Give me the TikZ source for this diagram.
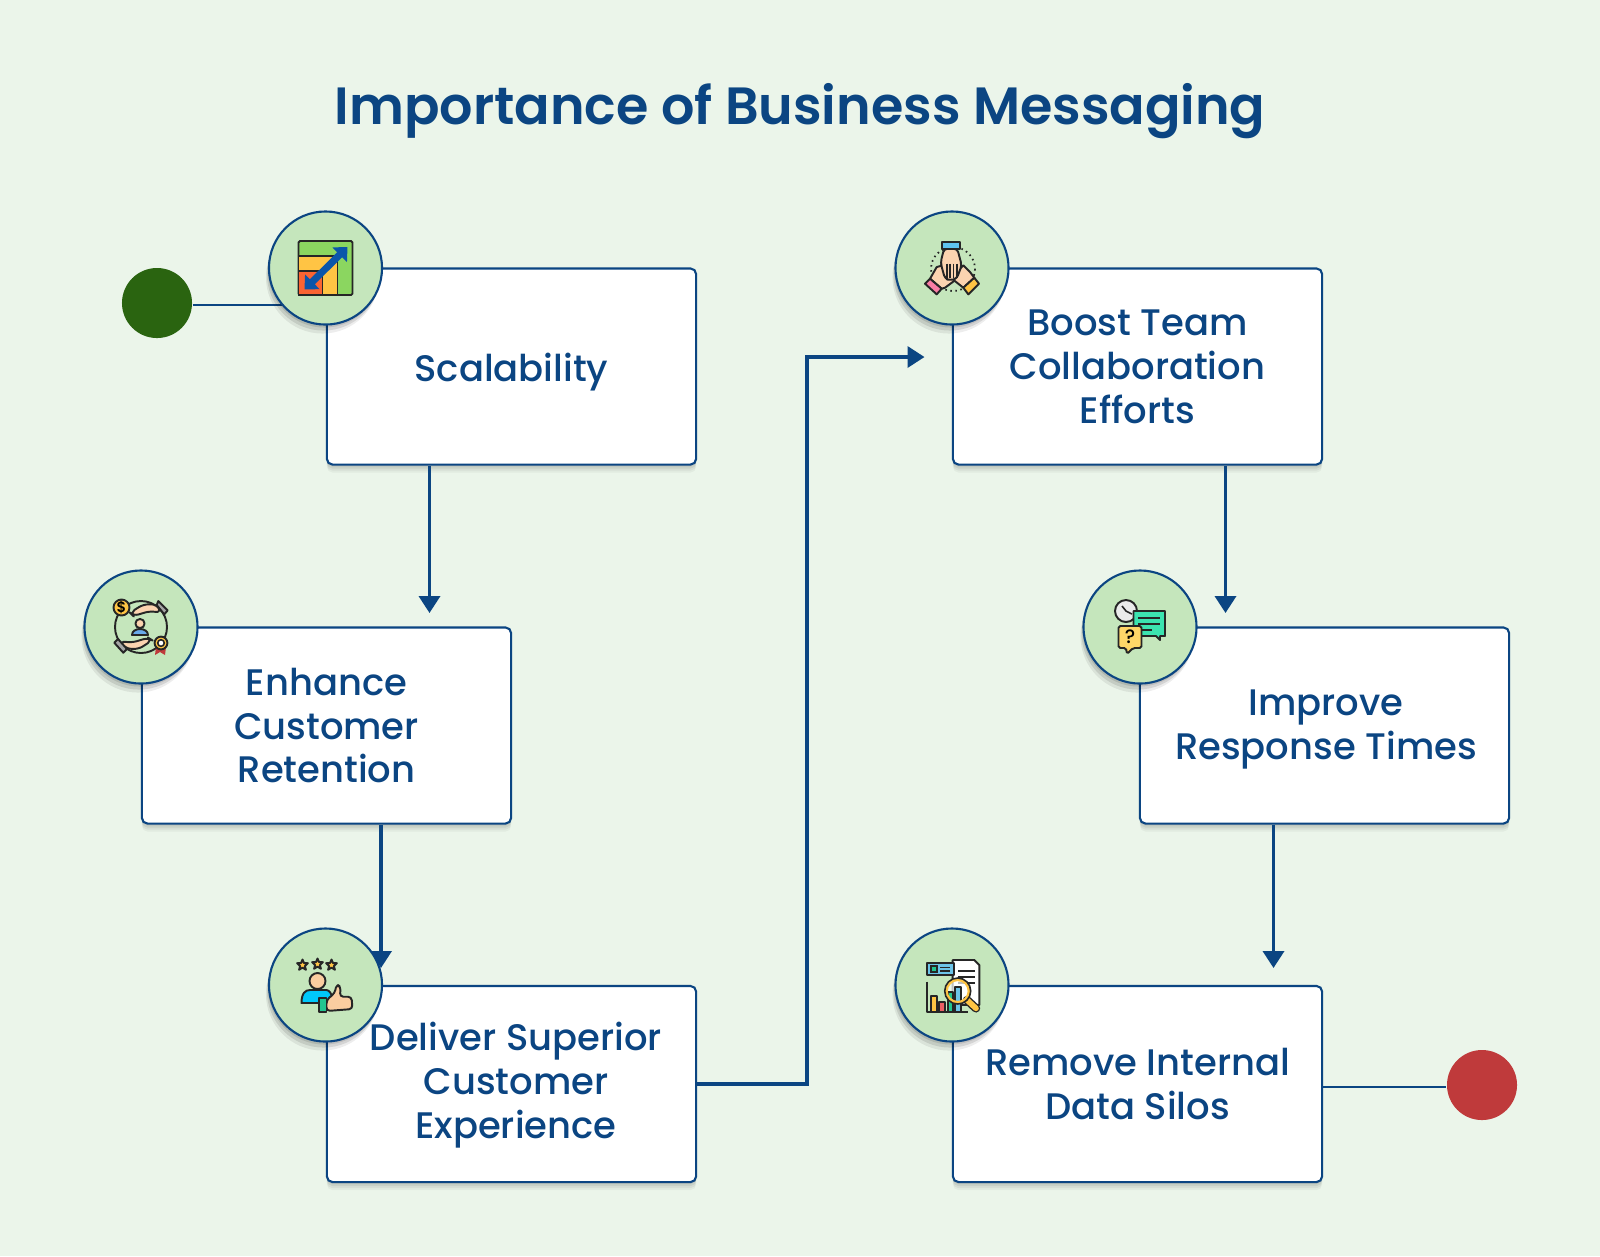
\documentclass[tikz,border=0pt]{standalone}
\usepackage{fontspec}
\setmainfont{Poppins Medium}[BoldFont={Poppins SemiBold}]
\usetikzlibrary{arrows.meta,shadows}
\definecolor{pagebg}{HTML}{EBF5EA}
\definecolor{navy}{HTML}{0B4582}
\definecolor{badgefill}{HTML}{C5E6BC}
\definecolor{startdot}{HTML}{2A6410}
\definecolor{enddot}{HTML}{BF3A3B}
\definecolor{skin}{HTML}{FBD3B0}
\definecolor{gold}{HTML}{FFC444}
\tikzset{
	softshade/.style={general shadow={shadow xshift=0cm, shadow yshift=-0.02cm, fill=black, opacity=0.06},
		general shadow={shadow xshift=0cm, shadow yshift=-0.04cm, fill=black, opacity=0.06},
		general shadow={shadow xshift=0cm, shadow yshift=-0.06cm, fill=black, opacity=0.05},
		general shadow={shadow xshift=0cm, shadow yshift=-0.08cm, fill=black, opacity=0.04}},
	box/.style={draw=navy, line width=0.6pt, fill=white, rounded corners=1.6pt, minimum width=3.69cm, minimum height=1.96cm, align=center, text=navy, font=\fontsize{10.5}{12.5}\selectfont, softshade},
	boxtext/.style={align=center, text=navy, font=\fontsize{10.5}{12.5}\selectfont},
	badge/.style={draw=navy, line width=0.6pt, fill=badgefill, circle, minimum size=1.13cm, inner sep=0pt,
		general shadow={shadow xshift=-0.01cm, shadow yshift=-0.03cm, fill=black, opacity=0.1},
		general shadow={shadow xshift=-0.02cm, shadow yshift=-0.06cm, fill=black, opacity=0.1},
		general shadow={shadow xshift=-0.03cm, shadow yshift=-0.09cm, fill=black, opacity=0.07}},
	flow/.style={draw=navy, line width=1pt, -{Triangle[length=0.17cm,width=0.21cm]}},
	link/.style={draw=navy, line width=0.6pt},
	dot/.style={circle, minimum size=0.7cm, inner sep=0pt},
	iconline/.style={draw=black!85, line width=0.55pt, line join=round},
	thinline/.style={draw=black!85, line width=0.45pt}
}
\begin{document}
\begin{tikzpicture}[x=0.01cm,y=-0.01cm]
	\fill[pagebg] (0,0) rectangle (1600,1256);
	\useasboundingbox (0,0) rectangle (1600,1256);
	\node[text=navy, font=\fontsize{14.9}{18}\bfseries\selectfont] (title) at (800,111) {Importance of Business Messaging};

	\node[box] (scalability) at (511.5,366.5) {};
	\node[boxtext] (scalabilitytext) at (511.5,372) {Scalability};
	\node[box] (retention) at (326.5,725.5) {Enhance\\Customer\\Retention};
	\node[box] (experience) at (511.5,1084) {};
	\node[boxtext] (experiencetext) at (516,1085) {Deliver Superior\\Customer\\Experience};
	\node[box] (collaboration) at (1137.5,366.5) {Boost Team\\Collaboration\\Efforts};
	\node[box] (response) at (1324.5,725.5) {};
	\node[boxtext] (responsetext) at (1326,729) {Improve\\Response Times};
	\node[box] (silos) at (1137.5,1084) {Remove Internal\\Data Silos};

	\node[dot, fill=startdot] (start) at (157,303) {};
	\node[dot, fill=enddot] (end) at (1482,1085) {};

	\coordinate (tipa) at (429.5,613);
	\coordinate (tipb) at (381,968);
	\coordinate (tipc) at (924.5,357);
	\coordinate (tipd) at (1225.5,613);
	\coordinate (tipe) at (1273.5,968);

	\draw[link] (start.east |- 0,305) -- (285,305);
	\draw[link] (silos.east |- 0,1087) -- (end.west |- 0,1087);
	\draw[flow] (scalability.south -| tipa) -- (tipa);
	\draw[flow] (retention.south -| tipb) -- (tipb);
	\draw[flow] (experience.east) -- ++(110,0) |- (tipc);
	\draw[flow] (collaboration.south -| tipd) -- (tipd);
	\draw[flow] (response.south -| tipe) -- (tipe);

	\node[badge] (scalebadge) at (325.5,268) {};
	\node[badge] (retainbadge) at (141,627) {};
	\node[badge] (deliverbadge) at (325.5,985) {};
	\node[badge] (teambadge) at (952,268) {};
	\node[badge] (timebadge) at (1140,627) {};
	\node[badge] (silobadge) at (952,985) {};

	% growth chart
	\begin{scope}[shift={(scalebadge.center)}]
		\draw[iconline, rounded corners=0.4pt, fill={rgb,255:red,139;green,214;blue,96}] (-27,-27) rectangle (27,27);
		\draw[iconline, fill=gold] (-27,-12) -- (12,-12) -- (12,27) -- (-27,27) -- cycle;
		\draw[iconline, fill={rgb,255:red,250;green,100;blue,50}] (-27,3) -- (-3,3) -- (-3,27) -- (-27,27) -- cycle;
		\draw[line width=2pt, draw={rgb,255:red,10;green,85;blue,170}, {Triangle[length=0.11cm,width=0.2cm]}-{Triangle[length=0.11cm,width=0.2cm]}] (-21,21.5) -- (22,-21);
	\end{scope}

	% three hands
	\begin{scope}[shift={(teambadge.center)}]
		\draw[thinline, densely dotted, line width=0.5pt] (1,1) circle[radius=22];
		\draw[iconline, fill=skin] (-22,10.7) -- (-15.3,-1) -- (-8.7,-2.7) -- (3,12.3) -- (-7,19.7) -- (-10.3,20.7) -- cycle;
		\draw[iconline, fill=skin] (11.3,19.7) -- (22.3,9.7) -- (18,4) -- (11.3,-2.7) -- (6.3,2.3) -- (2,12.3) -- cycle;
		\draw[iconline, fill={rgb,255:red,250;green,125;blue,165}] (-27,15.7) -- (-22,10.7) -- (-10.3,20.7) -- (-15.3,26.3) -- cycle;
		\draw[iconline, fill=gold] (11.3,19.7) -- (22.3,9.7) -- (27,15.7) -- (16.3,26.3) -- cycle;
		\draw[iconline, fill=skin, rounded corners=1pt] (-8,-19.3) -- (-11.3,-6) -- (-10.3,-1) -- (-7,10.7) -- (-2,12.3) -- (4.7,10.7) -- (9.7,-2.7) -- (5.3,-19.3) -- cycle;
		\draw[iconline, fill={rgb,255:red,95;green,195;blue,240}] (-9.7,-26) rectangle (8,-19.3);
		\foreach \fx in {-5.3,-2,1.3,4.7} \draw[thinline] (\fx,-4.3) -- (\fx,9.7);
	\end{scope}

	% customer between hands
	\begin{scope}[shift={(retainbadge.center)}]
		\draw[iconline] (0,0) circle[radius=26];
		\draw[iconline, fill=skin, rounded corners=1.5pt] (-11,-14.3) -- (2.3,-22.7) -- (15.7,-22.7) -- (20,-14.3) -- (9,-16) -- (-7.7,-11) -- cycle;
		\draw[iconline, fill=black!35] (17.3,-26) -- (26.7,-16.7) -- (23.3,-12.7) -- (15.7,-22) -- cycle;
		\draw[iconline, fill=skin, rounded corners=1.5pt] (11.3,13.3) -- (-2.7,22.3) -- (-16,21.3) -- (-21,14) -- (-9.3,15.7) -- (7.3,10.7) -- cycle;
		\draw[iconline, fill=black!35] (-26.7,15.7) -- (-17.7,25.7) -- (-14,22) -- (-23,12) -- cycle;
		\draw[iconline, fill=gold] (-19.5,-19.5) circle[radius=8];
		\node[font=\fontsize{4.2}{4.2}\bfseries\selectfont] (coinmark) at (-19.5,-19.5) {\$};
		\draw[iconline, fill=skin] (-1,-3.5) circle[radius=4.6];
		\draw[iconline, fill={rgb,255:red,105;green,170;blue,235}] (-9,8) .. controls (-9,0) and (7,0) .. (7,8) -- cycle;
		\fill[enddot] (15,20) -- (14,28) -- (19,25) -- (24,28) -- (25,20) -- cycle;
		\draw[iconline, fill=gold] (20,16) circle[radius=6.4];
		\draw[thinline, fill=white] (20,16) circle[radius=3.3];
	\end{scope}

	% thumbs up
	\begin{scope}[shift={(deliverbadge.center)}]
		\foreach \sx/\sy in {-23/-20,-8/-21,6/-20}
			\draw[iconline, fill=gold, shift={(\sx,\sy)}] (0,-5.5) -- (1.5,-2) -- (5.4,-1.8) -- (2.4,1) -- (3.4,4.7) -- (0,2.6) -- (-3.4,4.7) -- (-2.4,1) -- (-5.4,-1.8) -- (-1.5,-2) -- cycle;
		\draw[iconline, fill={rgb,255:red,0;green,200;blue,250}] (-24,18) .. controls (-24,8) and (-20,5) .. (-15.7,5) -- (1,5) .. controls (4,5) and (6,9) .. (7,13) -- (-6.3,18) -- cycle;
		\draw[iconline, fill={rgb,255:red,250;green,205;blue,160}] (-8,-4) circle[radius=8];
		\draw[iconline, fill={rgb,255:red,250;green,205;blue,160}, rounded corners=1pt] (1,15) -- (9.3,8) -- (11,-0.7) -- (15.3,1.7) -- (14.3,11.7) -- (26,11.7) -- (27,24) -- (1,26) -- cycle;
		\draw[iconline, fill={rgb,255:red,34;green,197;blue,143}] (-6.3,12.7) rectangle (1,27.3);
	\end{scope}

	% clock and speech bubbles
	\begin{scope}[shift={(timebadge.center)}]
		\draw[iconline, fill=white!92!black] (-14,-16) circle[radius=11];
		\draw[thinline] (-14,-16) -- (-18,-21) (-14,-16) -- (-8,-13);
		\draw[iconline, fill={rgb,255:red,60;green,227;blue,176}] (-6.5,-16) -- (25,-16) -- (25,9) -- (20,9) -- (20,13) -- (16,9) -- (-6.5,9) -- cycle;
		\foreach \ly/\lx in {-9/20,-3/20,3/12} \draw[thinline] (-2,\ly) -- (\lx,\ly);
		\draw[iconline, fill={rgb,255:red,255;green,214;blue,104}, rounded corners=0.5pt] (-21.5,-1) -- (1.5,-1) -- (1.5,21) -- (-7,21) -- (-13,27) -- (-14,21) -- (-21.5,21) -- cycle;
		\node[font=\fontsize{5.5}{5.5}\selectfont, inner sep=0pt] (questionmark) at (-10,10) {?};
	\end{scope}

	% report and magnifier
	\begin{scope}[shift={(silobadge.center)}]
		\draw[iconline, fill=white] (0.7,-25) -- (22.3,-25) -- (27.3,-20) -- (27.3,20) -- (0.7,20) -- cycle;
		\foreach \ly in {-14,-8,-2} \draw[thinline] (6,\ly) -- (23,\ly);
		\draw[iconline, fill={rgb,255:red,108;green,196;blue,232}] (-25.3,-21.7) rectangle (2.3,-10);
		\draw[thinline, fill={rgb,255:red,34;green,197;blue,143}] (-21,-19) rectangle (-15,-13);
		\draw[thinline] (-12,-17.5) -- (-2,-17.5) (-12,-14) -- (-2,-14);
		\fill[white, opacity=0.7] (5.7,6) circle[radius=11.5];
		\draw[line width=2.4pt, draw=black!85, line cap=round] (15,15) -- (24,23.3);
		\draw[line width=1.6pt, draw=gold, line cap=round] (15,15) -- (24,23.3);
		\draw[iconline, fill=gold] (-21,10.7) rectangle (-15.3,26.7);
		\draw[iconline, fill={rgb,255:red,235;green,95;blue,100}] (-12.7,16.7) rectangle (-7.3,26.7);
		\draw[iconline, fill={rgb,255:red,34;green,197;blue,143}] (-4.3,7.3) rectangle (0.7,26.7);
		\draw[iconline, fill={rgb,255:red,108;green,196;blue,232}] (3.3,1.7) rectangle (9,26.7);
		\draw[iconline] (-25.3,-3.3) -- (-25.3,27.3) -- (15.7,27.3);
		\draw[line width=0.9pt, draw=gold] (5.7,6) circle[radius=11.5];
		\draw[thinline] (5.7,6) circle[radius=13];
	\end{scope}
\end{tikzpicture}
\end{document}
